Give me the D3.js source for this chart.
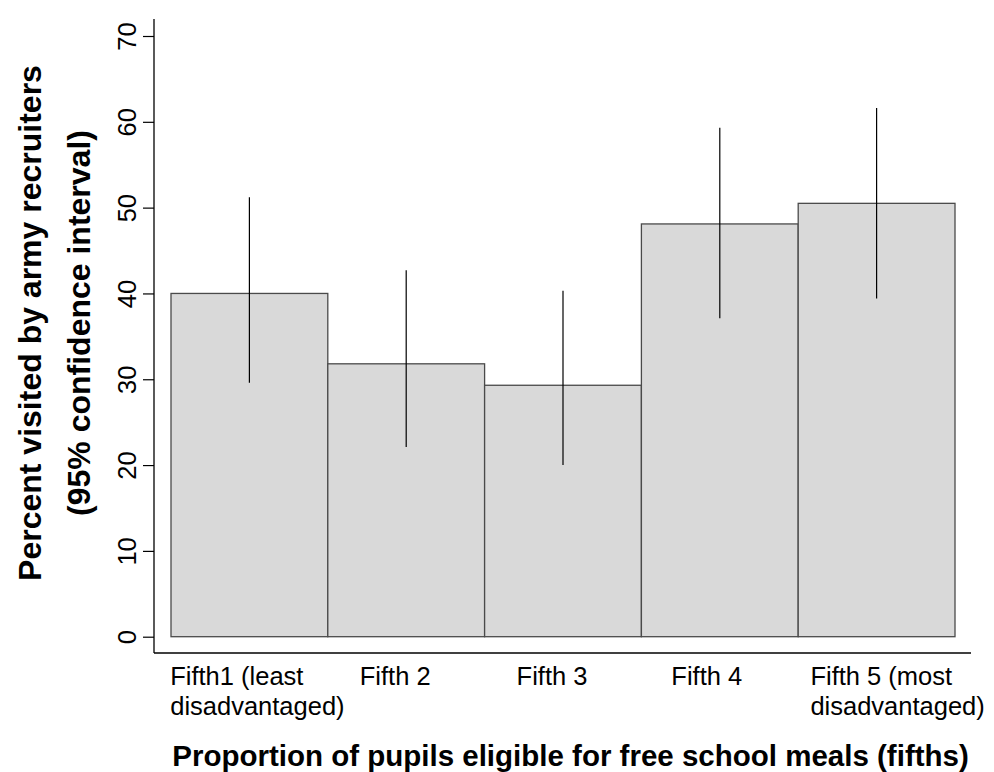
<!DOCTYPE html>
<html>
<head>
<meta charset="utf-8">
<script src="https://cdn.jsdelivr.net/npm/d3@7"></script>
<style>
  body { margin: 0; background: #fff; }
  svg text { font-family: "Liberation Sans", Arial, sans-serif; fill: #000; }
</style>
</head>
<body>
<div id="chart"></div>
<script>
// data
var categories = [
    ["Fifth1 (least", "disadvantaged)"],
    ["Fifth 2"],
    ["Fifth 3"],
    ["Fifth 4"],
    ["Fifth 5 (most", "disadvantaged)"]
];
var percent = [40.0, 31.8, 29.3, 48.1, 50.5];
var ciLow   = [29.6, 22.1, 20.0, 37.1, 39.4];
var ciHigh  = [51.2, 42.7, 40.3, 59.3, 61.6];
var yTicks  = [0, 10, 20, 30, 40, 50, 60, 70];

// small horizontal nudges of the category label blocks (as drawn in the source)
var labelShift = [8, -11, -11, -13, 21];

var width = 994, height = 772;
var plot = {left: 154, right: 971, top: 19, bottom: 653};

var svg = d3.select("#chart").append("svg")
    .attr("width", width)
    .attr("height", height);

var yScale = d3.scaleLinear()
    .domain([0, 70])
    .range([636.7, 36]);

var xScale = d3.scaleBand()
    .domain(d3.range(percent.length))
    .range([plot.left + 17, plot.right - 16])
    .paddingInner(0);

// bars
svg.append("g")
    .selectAll("rect")
    .data(percent)
    .join("rect")
    .attr("x", function(d, i) { return xScale(i); })
    .attr("y", function(d) { return yScale(d); })
    .attr("width", xScale.bandwidth())
    .attr("height", function(d) { return yScale(0) - yScale(d); })
    .attr("fill", "#d9d9d9")
    .attr("stroke", "#4a4a4a")
    .attr("stroke-width", 1.3);

// confidence intervals
svg.append("g")
    .selectAll("line")
    .data(percent)
    .join("line")
    .attr("x1", function(d, i) { return xScale(i) + xScale.bandwidth() / 2; })
    .attr("x2", function(d, i) { return xScale(i) + xScale.bandwidth() / 2; })
    .attr("y1", function(d, i) { return yScale(ciLow[i]); })
    .attr("y2", function(d, i) { return yScale(ciHigh[i]); })
    .attr("stroke", "#000")
    .attr("stroke-width", 1.2);

// y axis
var yAxis = svg.append("g")
    .attr("transform", "translate(" + plot.left + ",0)")
    .call(d3.axisLeft(yScale).tickValues(yTicks).tickSize(11).tickPadding(6));
yAxis.select(".domain").remove();
yAxis.selectAll(".tick line").attr("stroke", "#000").attr("stroke-width", 1.2);
yAxis.selectAll(".tick text")
    .attr("font-size", 25.5)
    .attr("transform", "rotate(-90)")
    .attr("x", 0)
    .attr("y", -18)
    .attr("dy", 0)
    .style("text-anchor", "middle");

// axis lines
svg.append("line")
    .attr("x1", plot.left).attr("x2", plot.left)
    .attr("y1", plot.top).attr("y2", plot.bottom)
    .attr("stroke", "#000").attr("stroke-width", 1.3);
svg.append("line")
    .attr("x1", plot.left).attr("x2", plot.right)
    .attr("y1", plot.bottom).attr("y2", plot.bottom)
    .attr("stroke", "#000").attr("stroke-width", 1.3);

// category labels
var labels = svg.append("g")
    .selectAll("text")
    .data(categories)
    .join("text")
    .attr("font-size", 25.5)
    .attr("y", 685);

labels.each(function(lines, i) {
    var t = d3.select(this);
    lines.forEach(function(s, k) {
        t.append("tspan").attr("dy", k == 0 ? 0 : 30).text(s);
    });
    var w = 0;
    t.selectAll("tspan").each(function() { w = Math.max(w, this.getComputedTextLength()); });
    var x0 = xScale(i) + xScale.bandwidth() / 2 + labelShift[i] - w / 2;
    t.selectAll("tspan").attr("x", x0);
});

// axis titles
svg.append("text")
    .attr("x", (plot.left + plot.right) / 2 + 8)
    .attr("y", 766)
    .attr("font-size", 29.5)
    .attr("font-weight", "bold")
    .style("text-anchor", "middle")
    .text("Proportion of pupils eligible for free school meals (fifths)");

var yTitle = svg.append("text")
    .attr("transform", "rotate(-90)")
    .attr("font-size", 32)
    .attr("font-weight", "bold")
    .style("text-anchor", "middle");
yTitle.append("tspan")
    .attr("x", -323).attr("y", 41)
    .text("Percent visited by army recruiters");
yTitle.append("tspan")
    .attr("x", -323).attr("y", 90)
    .text("(95% confidence interval)");
</script>
</body>
</html>
